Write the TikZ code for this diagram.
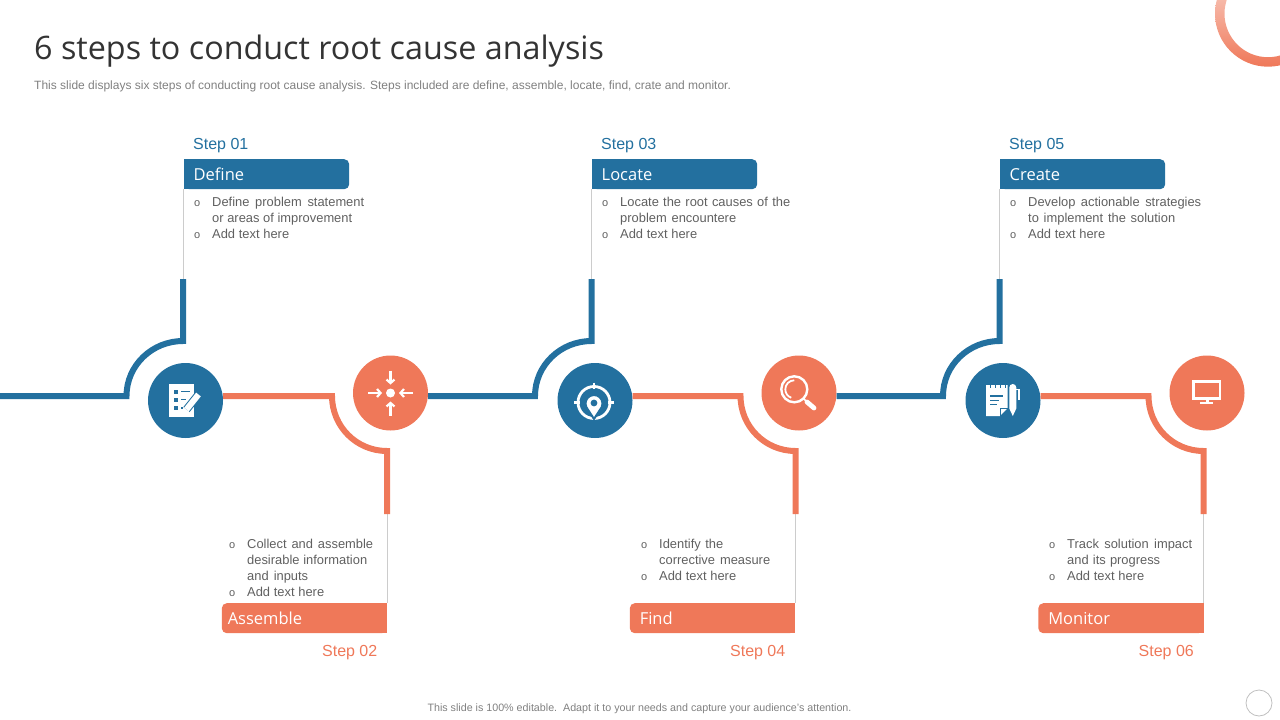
\documentclass[tikz,border=0pt]{standalone}
\usepackage{fontspec}
\setmainfont{Liberation Sans}
\newfontfamily\headfont{Open Sans}
\usetikzlibrary{arrows.meta}
\definecolor{stepblue}{HTML}{23709F}
\definecolor{steporange}{HTML}{EF7859}
\definecolor{bodygray}{HTML}{606060}
\definecolor{notegray}{HTML}{808080}
\newcommand{\bodyline}[2]{\strut\makebox[#1pt][s]{#2}}
\newcommand{\bulletline}[2]{\llap{\fontsize{11}{16}\selectfont o\hspace{12pt}}\bodyline{#1}{#2}}

\begin{document}
\begin{tikzpicture}[x=1pt,y=-1pt]
    \tikzstyle{title}=[anchor=base west,inner sep=0pt,text=black!80,font=\headfont\fontsize{32.3}{40}\selectfont]
    \tikzstyle{note}=[inner sep=0pt,text=notegray,font=\fontsize{12}{14}\selectfont]
    \tikzstyle{icon}=[circle,minimum size=75pt,inner sep=0pt]
    \tikzstyle{blue icon}=[icon,fill=stepblue]
    \tikzstyle{orange icon}=[icon,fill=steporange]
    \tikzstyle{blueline}=[draw=stepblue,line width=6pt]
    \tikzstyle{orangeline}=[draw=steporange,line width=6pt]
    \tikzstyle{thinline}=[draw=black!20,line width=0.8pt]
    \tikzstyle{head}=[rounded corners=5pt,minimum height=30pt,inner ysep=0pt,text=white,font=\headfont\fontsize{16.5}{20}\selectfont]
    \tikzstyle{steplabel}=[inner sep=0pt,font=\fontsize{16}{20}\selectfont]
    \tikzstyle{body}=[anchor=north west,inner sep=0pt,align=left,text=bodygray,font=\fontsize{12.9}{16}\selectfont]
    \tikzstyle{glyph}=[draw=white,line width=2pt]

    \useasboundingbox (0,0) rectangle (1280,720);

    % Draw the ring in the corner
    \begin{scope}
        \clip (1180,0) rectangle (1280,80);
        \shade[top color=steporange!25,bottom color=steporange,even odd rule]
            (1268,13.7) circle (53) (1268,13.7) circle (43.5);
    \end{scope}

    % Draw the title lines
    \node[title] (heading) at (34,59) {6 steps to conduct root cause analysis};
    \node[note,anchor=base west] (intro) at (34,89) {This slide displays six steps of conducting root cause analysis. Steps included are define, assemble, locate, find, crate and monitor.};
    \node[note,anchor=base,font=\fontsize{10.7}{14}\selectfont] (footnote) at (639.5,711) {This slide is 100\% editable.\ \ Adapt it to your needs and capture your audience's attention.};
    \node[circle,draw=black!25,line width=0.8pt,minimum size=26pt,inner sep=0pt] (pager) at (1259,703) {};

    % Draw the icon circles
    \node[inner sep=0pt,minimum size=0pt] (O-0) at (0,396) {};
    \foreach \n / \x / \bx in {1/0/185.5,2/408.5/595,3/816.5/1003} {
        \node[blue icon] (B-\n) at (\bx,400.5) {};
        \node[orange icon] (O-\n) at (\x+390.5,393) {};
        \coordinate (BK-\n) at (\x+126.5,396);
        \coordinate (BA-\n) at (\x+183,341);
        \coordinate (BT-\n) at (\x+183,279);
        \coordinate (OK-\n) at (\x+332,396);
        \coordinate (OA-\n) at (\x+387,451);
        \coordinate (OT-\n) at (\x+387,514);
    }

    % Draw the upper step headers
    \foreach \n / \x / \name / \num in {1/0/Define/01,2/408/Locate/03,3/816/Create/05} {
        \node[head,fill=stepblue,anchor=north west,inner xsep=9.5pt,text width=146pt] (HB-\n) at (\x+184,159) {\name};
        \fill[stepblue] (HB-\n.north west) rectangle ([xshift=10pt]HB-\n.south west);
        \node[steplabel,text=stepblue,anchor=base west] (SB-\n) at (\x+193,149) {Step \num};
    }

    % Draw the lower step headers
    \foreach \n / \x / \name / \num / \pad in {1/0/Assemble/02/6,2/408/Find/04/10,3/816.5/Monitor/06/10} {
        \node[head,fill=steporange,anchor=north east,inner xsep=\pad pt,text width={(165-2*\pad)*1pt}] (HO-\n) at (\x+387,603) {\name};
        \fill[steporange] (HO-\n.north east) rectangle ([xshift=-10pt]HO-\n.south east);
        \node[steplabel,text=steporange,anchor=base east] (SO-\n) at (\x+377.5,656) {Step \num};
    }

    % Connect every step to the next one
    \foreach \n / \p in {1/0,2/1,3/2} {
        \path[thinline] (BT-\n) -- (BT-\n |- HB-\n.south);
        \path[thinline] (OT-\n) -- (OT-\n |- HO-\n.north);
        \draw[blueline] (O-\p.east |- BK-\n) -- (BK-\n) to[out=90,in=180] (BA-\n) -- (BT-\n);
        \draw[orangeline] (B-\n.east |- OK-\n) -- (OK-\n) to[out=-90,in=180] (OA-\n) -- (OT-\n);
    }

    % Write the step texts
    \node[body] (T-1) at (212,194.8) {\bulletline{152}{Define problem statement}\\\bodyline{140}{or areas of improvement}\\\bulletline{77}{Add text here}};
    \node[body] (T-3) at (620,194.8) {\bulletline{170}{Locate the root causes of the}\\\bodyline{116}{problem encountere}\\\bulletline{77}{Add text here}};
    \node[body] (T-5) at (1028,194.8) {\bulletline{173}{Develop actionable strategies}\\\bodyline{147}{to implement the solution}\\\bulletline{77}{Add text here}};
    \node[body] (T-2) at (247,536.8) {\bulletline{126}{Collect and assemble}\\\bodyline{120}{desirable information}\\\bodyline{61}{and inputs}\\\bulletline{77}{Add text here}};
    \node[body] (T-4) at (659,536.8) {\bulletline{64}{Identify the}\\\bodyline{111}{corrective measure}\\\bulletline{77}{Add text here}};
    \node[body] (T-6) at (1067,536.8) {\bulletline{125}{Track solution impact}\\\bodyline{93}{and its progress}\\\bulletline{77}{Add text here}};

    % Icon of the list with a pen
    \begin{scope}[shift={(B-1.center)}]
        \fill[white] (-16.5,-16.5) rectangle (8.5,16.5);
        \foreach \y in {-11,-3,5.5} \fill[stepblue] (-12,\y) rectangle (-8,\y+4);
        \draw[stepblue,line width=1.6pt] (-4.5,-9) -- (4.5,-9) (-4.5,-1) -- (0,-1) (-4.5,7.5) -- (-3,7.5);
        \draw[stepblue,line width=8pt] (1,9) -- (13,-6);
        \draw[white,line width=6pt] (1,9) -- (13,-6);
        \fill[white] (0,14) -- (-1.5,8) -- (3.5,11) -- cycle;
    \end{scope}

    % Icon of the arrows going to the middle
    \begin{scope}[shift={(O-1.center)}]
        \fill[white] (0,0) circle (4.5);
        \foreach \a in {0,90,180,270}
            \draw[glyph,line width=2.2pt,-{Straight Barb[length=3.5pt,width=8pt]},rotate=\a] (22.5,0) -- (8.5,0);
    \end{scope}

    % Icon of the target with a pin
    \begin{scope}[shift={(B-2.center)}]
        \draw[glyph,line width=2.8pt] (-1,2) circle (16);
        \draw[glyph,line width=2.5pt] (-1,-18) -- (-1,-12) (-21,2) -- (-15,2) (13,2) -- (19,2);
        \fill[white,draw=stepblue,line width=2pt] (-1,18.5) -- (-8.7,6.6) arc[start angle=155,end angle=385,radius=8.5] -- cycle;
        \fill[stepblue] (-1,2.5) circle (3.4);
    \end{scope}

    % Icon of the magnifying glass
    \begin{scope}[shift={(O-2.center)}]
        \draw[glyph,line width=2.4pt] (-4.7,-3.7) circle (13);
        \draw[glyph,line width=1.8pt] (-4.7,-12.7) arc[start angle=270,end angle=110,radius=9];
        \draw[glyph,line width=1.5pt] (4,5) -- (8,9);
        \draw[glyph,line width=4.8pt,line cap=round] (8,9) -- (15,15);
    \end{scope}

    % Icon of the notepad with a pen
    \begin{scope}[shift={(B-3.center)}]
        \fill[white] (-17,-15.5) -- (4.7,-15.5) -- (4.7,7.5) -- (-3,15.5) -- (-17,15.5) -- cycle;
        \draw[stepblue,line width=1pt] (-3,15.5) -- (-3,7.5) -- (4.7,7.5);
        \draw[stepblue,line width=1.5pt] (-13,-4.5) -- (0,-4.5) (-13,0) -- (-3.7,0) (-13,4) -- (-6,4);
        \foreach \s in {-13,-8,-3,2} \fill[stepblue] (\s,-15.5) rectangle (\s+1,-12.5);
        \fill[white] (6.3,-13) arc[start angle=180,end angle=360,radius=3.5] -- (13.3,8) -- (9.8,15.5) -- (6.3,8) -- cycle;
        \draw[glyph,line width=1.2pt] (13.3,-11) -- (16,-11) -- (16,-1);
    \end{scope}

    % Icon of the screen
    \begin{scope}[shift={(O-3.center)}]
        \draw[glyph,line width=2.5pt] (-13.3,-11.3) rectangle (13,5.3);
        \fill[white] (-14.5,4) rectangle (14.2,6.5);
        \fill[white] (-1.5,6) rectangle (1.5,9);
        \fill[white] (-7,8.7) rectangle (6,11);
    \end{scope}
\end{tikzpicture}
\end{document}
